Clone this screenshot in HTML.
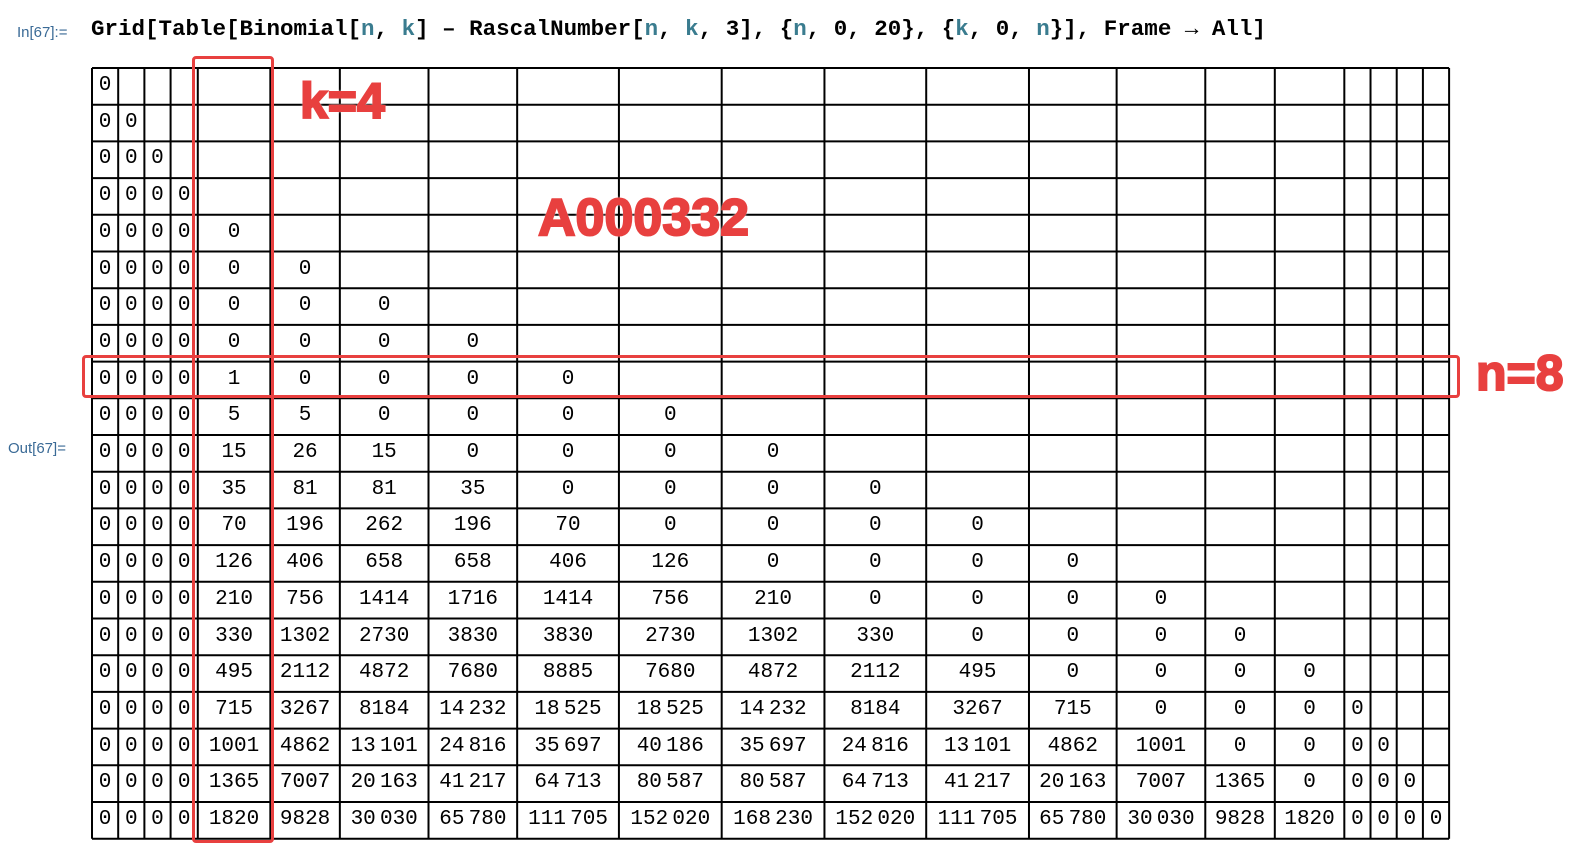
<!DOCTYPE html>
<html><head><meta charset="utf-8"><style>
body{margin:0;width:1579px;height:846px;background:#fff;position:relative;overflow:hidden;font-family:"Liberation Mono",monospace}
.lbl{position:absolute;font-family:"Liberation Sans",sans-serif;font-size:15px;color:#3a6a96}
#code{position:absolute;left:91px;top:16px;font-size:22.5px;font-weight:bold;color:#000;white-space:pre;font-family:"Liberation Mono",monospace}
#code .v{color:#3a7c8f}
.cell{position:absolute;text-align:center;font-size:21px;color:#000;white-space:pre}
.ann{position:absolute;font-family:"Liberation Sans",sans-serif;font-weight:bold;color:#e8403f;-webkit-text-stroke:2px #e8403f;text-shadow:0 0 2px #fff,0 0 3px #fff}
.box{position:absolute;border:3px solid #e8403f;border-radius:4px}
</style></head><body>
<div class="lbl" style="left:17px;top:24px">In[67]:=</div>
<div id="code">Grid[Table[Binomial[<span class="v">n</span>, <span class="v">k</span>] – RascalNumber[<span class="v">n</span>, <span class="v">k</span>, 3], {<span class="v">n</span>, 0, 20}, {<span class="v">k</span>, 0, <span class="v">n</span>}], Frame → All]</div>
<div class="lbl" style="left:8px;top:440px">Out[67]=</div>
<svg id="grid" width="1579" height="846" style="position:absolute;left:0;top:0"></svg>
<div id="cells"></div>
<div class="box" style="left:192px;top:56px;width:76px;height:781px"></div>
<div class="box" style="left:82px;top:355px;width:1372px;height:37px"></div>
<div class="ann" style="left:300px;top:72px;font-size:50px">k=4</div>
<div class="ann" style="left:538px;top:188px;font-size:52px">A000332</div>
<div class="ann" style="left:1476px;top:344px;font-size:50px">n=8</div>
<script>
const rows=[
[0],[0,0],[0,0,0],[0,0,0,0],[0,0,0,0,0],[0,0,0,0,0,0],[0,0,0,0,0,0,0],[0,0,0,0,0,0,0,0],
[0,0,0,0,1,0,0,0,0],
[0,0,0,0,5,5,0,0,0,0],
[0,0,0,0,15,26,15,0,0,0,0],
[0,0,0,0,35,81,81,35,0,0,0,0],
[0,0,0,0,70,196,262,196,70,0,0,0,0],
[0,0,0,0,126,406,658,658,406,126,0,0,0,0],
[0,0,0,0,210,756,1414,1716,1414,756,210,0,0,0,0],
[0,0,0,0,330,1302,2730,3830,3830,2730,1302,330,0,0,0,0],
[0,0,0,0,495,2112,4872,7680,8885,7680,4872,2112,495,0,0,0,0],
[0,0,0,0,715,3267,8184,14232,18525,18525,14232,8184,3267,715,0,0,0,0],
[0,0,0,0,1001,4862,13101,24816,35697,40186,35697,24816,13101,4862,1001,0,0,0,0],
[0,0,0,0,1365,7007,20163,41217,64713,80587,80587,64713,41217,20163,7007,1365,0,0,0,0],
[0,0,0,0,1820,9828,30030,65780,111705,152020,168230,152020,111705,65780,30030,9828,1820,0,0,0,0]];
const colX=[92,118,144,170,197,269,338,426,514,615,717,819,920,1022,1109,1197,1266,1335,1361,1387,1413,1439].map(x=>92+(x-92)*1.0075);
const top0=68,rh=36.7;
const svg=document.getElementById('grid');
const ns='http://www.w3.org/2000/svg';
colX.forEach((x,i)=>{const l=document.createElementNS(ns,'line');


l.setAttribute('x1',x);l.setAttribute('x2',x);l.setAttribute('y1',top0);l.setAttribute('y2',top0+21*rh);
l.setAttribute('stroke','#000');l.setAttribute('stroke-width',2);svg.appendChild(l);});
for(let r=0;r<=21;r++){const l=document.createElementNS(ns,'line');


l.setAttribute('x1',colX[0]);l.setAttribute('x2',colX[21]);l.setAttribute('y1',top0+r*rh);l.setAttribute('y2',top0+r*rh);
l.setAttribute('stroke','#000');l.setAttribute('stroke-width',2);svg.appendChild(l);}
function fmt(v){const s=String(v);return s.length>4?s.replace(/\B(?=(\d{3})+(?!\d))/g,'\u2009'):s;}
const cells=document.getElementById('cells');
rows.forEach((row,n)=>row.forEach((v,k)=>{const d=document.createElement('div');


d.className='cell';d.textContent=fmt(v);
d.style.left=colX[k]+'px';d.style.width=(colX[k+1]-colX[k])+'px';
d.style.top=(top0+n*rh+6)+'px';d.style.lineHeight='24px';cells.appendChild(d);}));
</script>
</body></html>
